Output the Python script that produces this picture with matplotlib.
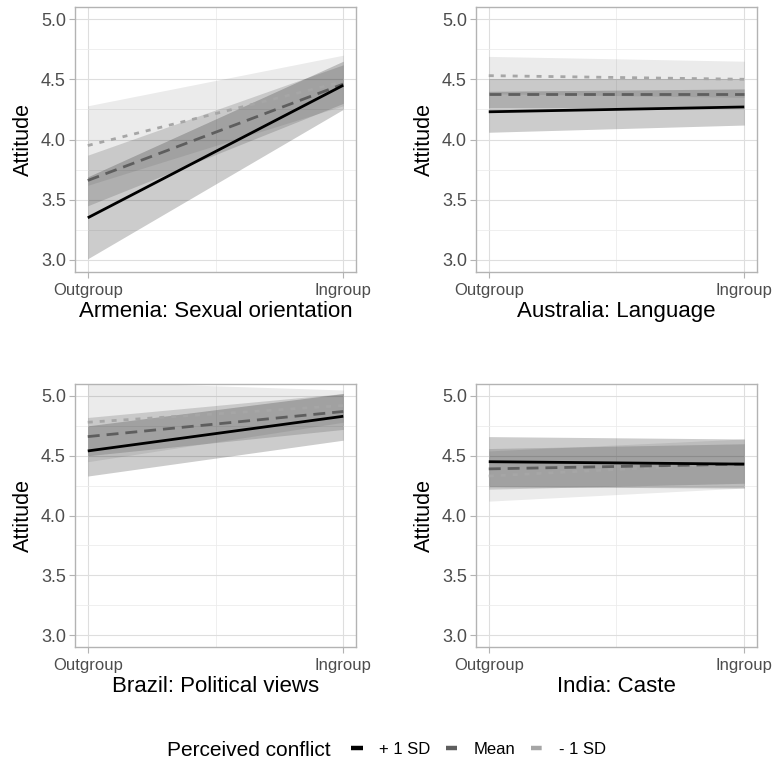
import matplotlib
matplotlib.use("Agg")
import matplotlib.pyplot as plt
from matplotlib.lines import Line2D
import numpy as np

plt.rcParams['font.family'] = ['Liberation Sans', 'DejaVu Sans']

panels = ["Armenia: Sexual orientation", "Australia: Language",
          "Brazil: Political views", "India: Caste"]
x_labels = ["Outgroup", "Ingroup"]
series = ["+ 1 SD", "Mean", "- 1 SD"]

# estimates [outgroup, ingroup] per series, per panel
est_plus = [[3.35, 4.45], [4.23, 4.27], [4.54, 4.83], [4.45, 4.43]]
lo_plus = [[3.01, 4.25], [4.06, 4.12], [4.33, 4.63], [4.24, 4.23]]
hi_plus = [[3.69, 4.65], [4.40, 4.42], [4.75, 5.02], [4.66, 4.64]]

est_mean = [[3.66, 4.46], [4.38, 4.38], [4.66, 4.87], [4.39, 4.43]]
lo_mean = [[3.45, 4.30], [4.26, 4.26], [4.50, 4.72], [4.22, 4.27]]
hi_mean = [[3.87, 4.62], [4.50, 4.50], [4.82, 5.02], [4.56, 4.60]]

est_minus = [[3.95, 4.48], [4.53, 4.50], [4.78, 4.92], [4.33, 4.44]]
lo_minus = [[3.62, 4.28], [4.38, 4.35], [4.45, 4.78], [4.12, 4.23]]
hi_minus = [[4.28, 4.70], [4.69, 4.65], [5.12, 5.05], [4.54, 4.64]]

yticks = [3.0, 3.5, 4.0, 4.5, 5.0]

line_colors = ["#000000", "#5e5e5e", "#a6a6a6"]
ribbon_alpha = [0.20, 0.14, 0.08]
styles = ["-", (0, (4.3, 2.5)), (0, (1.8, 2.5))]
leg_styles = ["-", "-", (0, (2.4, 0.8, 0.8, 0.8))]

W, H = 774, 763
fig = plt.figure(figsize=(W / 100, H / 100), dpi=100)

boxes = [(75, 7, 356, 272), (476, 7, 757, 272),
         (75, 384, 356, 647), (476, 384, 757, 647)]

x = np.array([0.0, 1.0])
for i, (l, t, r, b) in enumerate(boxes):
    ax = fig.add_axes([l / W, 1 - b / H, (r - l) / W, (b - t) / H])
    ests = [est_plus[i], est_mean[i], est_minus[i]]
    los = [lo_plus[i], lo_mean[i], lo_minus[i]]
    his = [hi_plus[i], hi_mean[i], hi_minus[i]]
    for k in range(3):
        ax.fill_between(x, los[k], his[k], color="black", alpha=ribbon_alpha[k],
                        linewidth=0, zorder=2)
    for k in range(3):
        ax.plot(x, ests[k], color=line_colors[k], linestyle=styles[k],
                linewidth=2.0, zorder=3 + (2 - k), solid_capstyle="butt",
                dash_capstyle="butt")
    ax.set_xlim(-0.05, 1.05)
    ax.set_ylim(2.9, 5.1)
    ax.set_xticks([0, 1])
    ax.set_xticklabels(x_labels)
    ax.set_xticks([0.5], minor=True)
    ax.set_yticks(yticks)
    ax.set_yticklabels([f"{v:.1f}" for v in yticks])
    ax.set_yticks([3.25, 3.75, 4.25, 4.75], minor=True)
    ax.grid(which="major", color="#dedede", linewidth=0.8, zorder=0)
    ax.grid(which="minor", color="#ececec", linewidth=0.6, zorder=0)
    ax.set_axisbelow(True)
    for s in ax.spines.values():
        s.set_color("#b3b3b3")
        s.set_linewidth(1.0)
    ax.tick_params(which="major", length=4, color="#b3b3b3", width=0.8,
                   labelcolor="#4d4d4d", pad=2.5)
    ax.tick_params(axis="y", labelsize=13)
    ax.tick_params(axis="x", labelsize=12, pad=4)
    ax.tick_params(which="minor", length=0)
    ax.set_ylabel("Attitude", fontsize=15.5, color="black", labelpad=5)
    ax.set_xlabel(panels[i], fontsize=16, color="black", labelpad=2)

# legend
fig.text(167 / W, 1 - 750 / H, "Perceived conflict", fontsize=15,
         ha="left", va="center", color="black")
handles = [Line2D([0], [0], color=line_colors[k], linestyle=leg_styles[k], linewidth=3.2,
                  solid_capstyle="butt", dash_capstyle="butt")
           for k in range(3)]
fig.legend(handles, series, loc="center left", bbox_to_anchor=(351 / W, 1 - 749 / H),
           ncol=3, frameon=False, fontsize=12, handlelength=0.7, handletextpad=1.0,
           columnspacing=0.9, borderpad=0, borderaxespad=0)

fig.savefig("out.png", dpi=100)
